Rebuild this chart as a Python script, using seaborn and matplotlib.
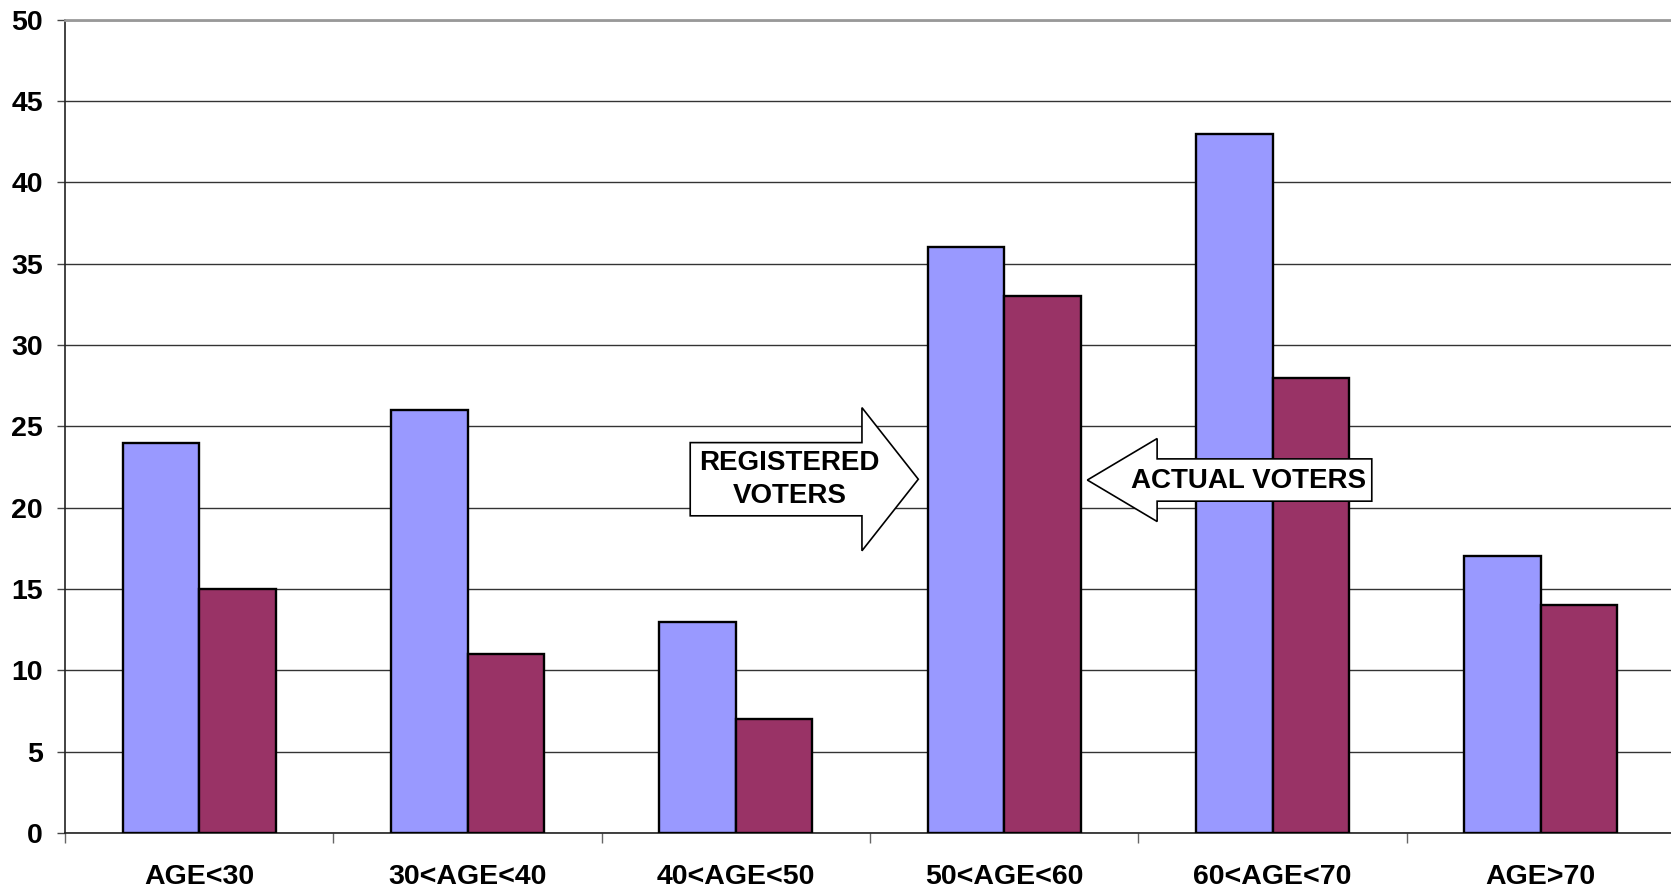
import pandas as pd
import matplotlib.pyplot as plt
import seaborn as sns
from matplotlib.patches import Polygon

# values
age_groups = ['AGE<30', '30<AGE<40', '40<AGE<50', '50<AGE<60', '60<AGE<70', 'AGE>70']
registered = [24, 26, 13, 36, 43, 17]
actual = [15, 11, 7, 33, 28, 14]
series_names = ['REGISTERED VOTERS', 'ACTUAL VOTERS']
y_ticks = [0, 5, 10, 15, 20, 25, 30, 35, 40, 45, 50]


def build_frame():
    rows = []
    for grp, r, a in zip(age_groups, registered, actual):
        rows.append({'age': grp, 'series': series_names[0], 'value': r})
        rows.append({'age': grp, 'series': series_names[1], 'value': a})
    return pd.DataFrame(rows)


def block_arrow(ax, tail_x, tip_x, y_mid, body_half, head_half, head_len):
    """Excel-style block arrow in data coordinates"""
    d = 1 if tip_x > tail_x else -1
    base = tip_x - d * head_len
    pts = [(tail_x, y_mid - body_half), (base, y_mid - body_half),
           (base, y_mid - head_half), (tip_x, y_mid),
           (base, y_mid + head_half), (base, y_mid + body_half),
           (tail_x, y_mid + body_half)]
    ax.add_patch(Polygon(pts, closed=True, facecolor='white', edgecolor='black',
                         linewidth=1.2, zorder=5))


sns.set_theme(style='white')
plt.rcParams['font.family'] = ['Liberation Sans', 'DejaVu Sans']
plt.rcParams['text.color'] = 'black'

df = build_frame()
fig = plt.figure(figsize=(16.71, 8.90), dpi=100)
ax = fig.add_axes([65 / 1671, 57 / 890, 1610 / 1671, 813.3 / 890])

sns.barplot(data=df, x='age', y='value', hue='series', ax=ax,
            palette=['#9999FF', '#993366'], width=0.571, gap=0,
            edgecolor='black', linewidth=1.7, saturation=1, legend=False, zorder=3)

ax.set_ylim(0, 50)
ax.set_xlim(-0.5, len(age_groups) - 0.5)
ax.set_yticks(y_ticks)
ax.yaxis.grid(True, color='#333333', linewidth=1.0, zorder=0)
ax.set_axisbelow(True)
ax.set_xlabel('')
ax.set_ylabel('')

for s in ['left', 'bottom']:
    ax.spines[s].set_color('#222222')
    ax.spines[s].set_linewidth(1.2)
ax.spines['right'].set_visible(False)
ax.spines['top'].set_color('#999999')
ax.spines['top'].set_linewidth(2)

ax.tick_params(axis='y', which='major', left=True, length=6, width=1, color='#444444',
               pad=10, labelsize=20.5)
ax.tick_params(axis='x', which='major', bottom=False, length=0, pad=22, labelsize=20.5)
ax.set_xticks([i - 0.5 for i in range(len(age_groups) + 1)], minor=True)
ax.tick_params(axis='x', which='minor', bottom=True, length=7, width=1, color='#666666')
for lbl in ax.get_xticklabels() + ax.get_yticklabels():
    lbl.set_fontweight('bold')
    lbl.set_color('black')

# callout arrows
block_arrow(ax, 1.83, 2.68, 21.75, 2.25, 4.4, 0.21)
ax.text(2.20, 21.75, 'REGISTERED\nVOTERS', ha='center', va='center', fontsize=20,
        fontweight='bold', linespacing=1.35, color='black', zorder=6)
block_arrow(ax, 4.37, 3.31, 21.7, 1.3, 2.55, 0.26)
ax.text(3.91, 21.65, 'ACTUAL VOTERS', ha='center', va='center', fontsize=20,
        fontweight='bold', color='black', zorder=6)

fig.savefig('out.png', dpi=100)
